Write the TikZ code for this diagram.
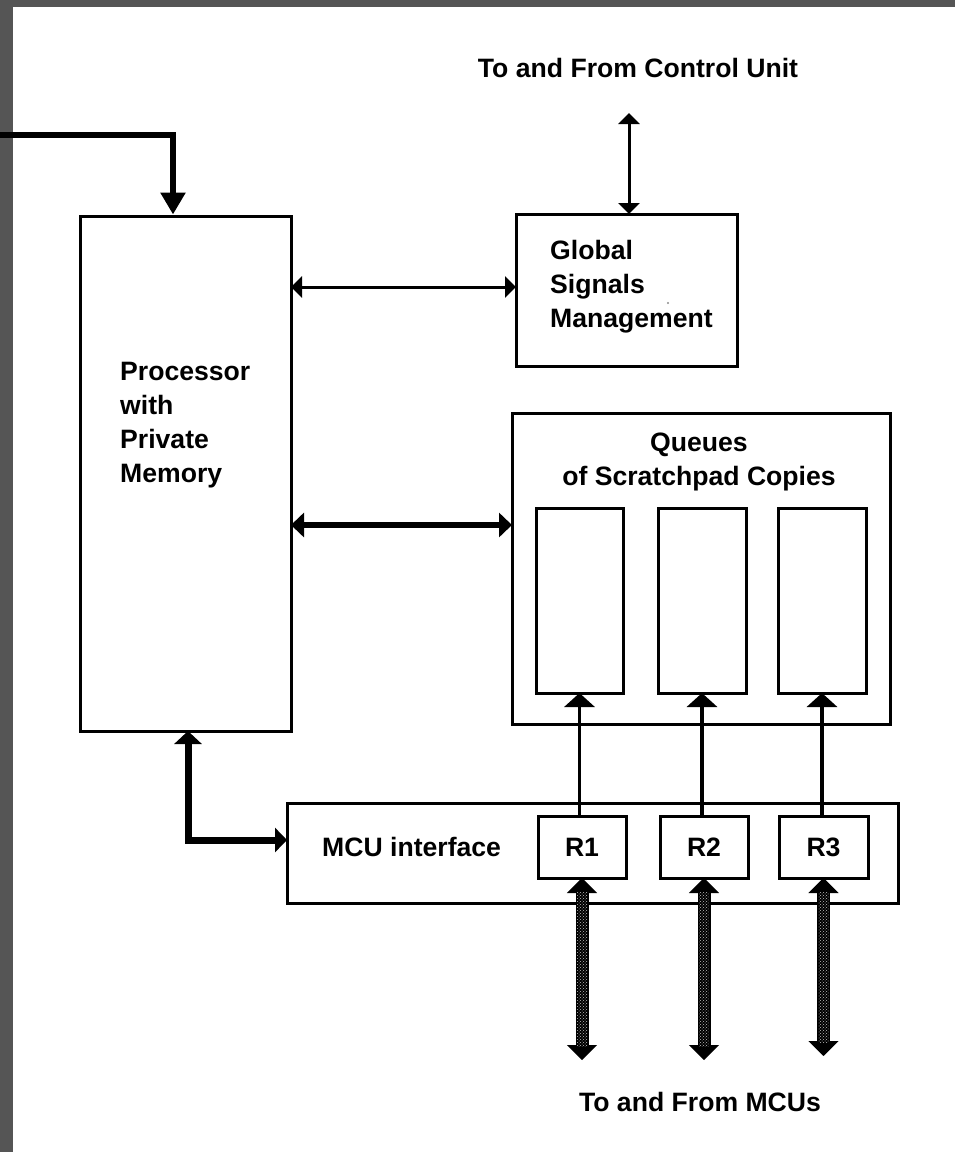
\documentclass[tikz,border=0pt]{standalone}
\usepackage{fontspec}
\setmainfont{Liberation Sans}
\usetikzlibrary{arrows.meta,calc,patterns}
\definecolor{bordergray}{RGB}{85,85,85}
\begin{document}
\begin{tikzpicture}[x=1pt,y=-1pt,
  box/.style={draw, line width=3pt, inner sep=0pt, outer sep=0pt, anchor=north west},
  lbl/.style={font=\fontsize{26.6}{34}\selectfont\bfseries, inner sep=0pt, align=left},
  thinarr/.style={line width=3pt, {Triangle[length=11pt,width=21pt]}-{Triangle[length=11pt,width=21pt]}},
  busarr/.style={line width=6pt, {Triangle[length=13pt,width=24pt]}-{Triangle[length=13pt,width=24pt]}},
  feedarr/.style={line width=3.5pt, -{Triangle[length=14pt,width=30pt]}},
  hatcharr/.style={line width=2pt, {Triangle[length=15pt,width=30pt]}-{Triangle[length=15pt,width=30pt]}}
]
\useasboundingbox (0,0) rectangle (955,1152);
\fill[white] (0,0) rectangle (955,1152);
\fill[bordergray] (0,0) rectangle (13,1152);
\fill[bordergray] (0,0) rectangle (955,7);

% boxes
\node[box, minimum width=211pt, minimum height=515pt] (proc) at (80,216) {};
\node[box, minimum width=221pt, minimum height=152pt] (gsm) at (516,214) {};
\node[box, minimum width=378pt, minimum height=311pt] (queues) at (512,413) {};
\node[box, minimum width=87pt, minimum height=185pt] (q1) at (536,508) {};
\node[box, minimum width=88pt, minimum height=185pt] (q2) at (658,508) {};
\node[box, minimum width=88pt, minimum height=185pt] (q3) at (778,508) {};
\node[box, minimum width=611pt, minimum height=100pt] (mcu) at (287,803) {};
\node[box, lbl, minimum width=88pt, minimum height=62pt] (r1) at (538,816) {R1};
\node[box, lbl, minimum width=88pt, minimum height=62pt] (r2) at (660,816) {R2};
\node[box, lbl, minimum width=89pt, minimum height=62pt] (r3) at (779,816) {R3};

% labels
\node[lbl, anchor=north west] (proct) at (120,362) {Processor\\with\\Private\\Memory};
\node[lbl, anchor=north west] (gsmt) at (550,240) {Global\\Signals\\Management};
\node[lbl, anchor=north, align=center] (qt) at (699,433) {Queues\\of Scratchpad Copies};
\node[lbl, anchor=base west] (mcut) at (322,856) {MCU interface};
\node[lbl, anchor=base] (cu) at (638,77) {To and From Control Unit};
\node[lbl, anchor=base] (mcus) at (700,1111) {To and From MCUs};
\fill[black!45] (668,303) circle (1.1pt);

% incoming line at top left
\coordinate (src) at (0,135);
\coordinate (pin) at ($(proc.north west)+(93,-1.5)$);
\draw[line width=6pt, -{Triangle[length=22pt,width=24pt]}] (src) -| (pin);

% control unit link
\coordinate (cutop) at ($(gsm.north west)+(113,-101)$);
\draw[thinarr] (cutop) -- (cutop |- gsm.north);

% processor <-> global signals
\coordinate (gsmin) at ($(gsm.north west)+(0,73)$);
\draw[thinarr] (gsmin -| proc.east) -- (gsmin);

% processor <-> queues
\coordinate (qin) at ($(queues.north west)+(0,112)$);
\draw[busarr] (qin -| proc.east) -- (qin);

% registers feed queues
\foreach \i in {1,2,3} {
  \draw[feedarr] (q\i.south |- r\i.north) -- (q\i.south);
}

% processor <-> MCU interface
\coordinate (mcuin) at ($(mcu.north west)+(0,37)$);
\coordinate (procout) at ($(proc.south west)+(108,0)$);
\draw[line width=7pt, {Triangle[length=13pt,width=27pt]}-{Triangle[length=12pt,width=24pt]}] (procout) |- (mcuin);

% hatched links to MCUs
\foreach \i/\d in {1/182,2/182,3/178} {
  \coordinate (m\i) at ($(r\i.south)+(0,\d)$);
  \draw[hatcharr] (r\i.south) -- (m\i);
  \fill[black] ($(r\i.south)+(-6.5,14)$) rectangle ($(m\i)+(6.5,-14)$);
  \fill[pattern=crosshatch dots, pattern color=white!75!black] ($(r\i.south)+(-5,14)$) rectangle ($(m\i)+(5,-14)$);
}
\end{tikzpicture}
\end{document}
